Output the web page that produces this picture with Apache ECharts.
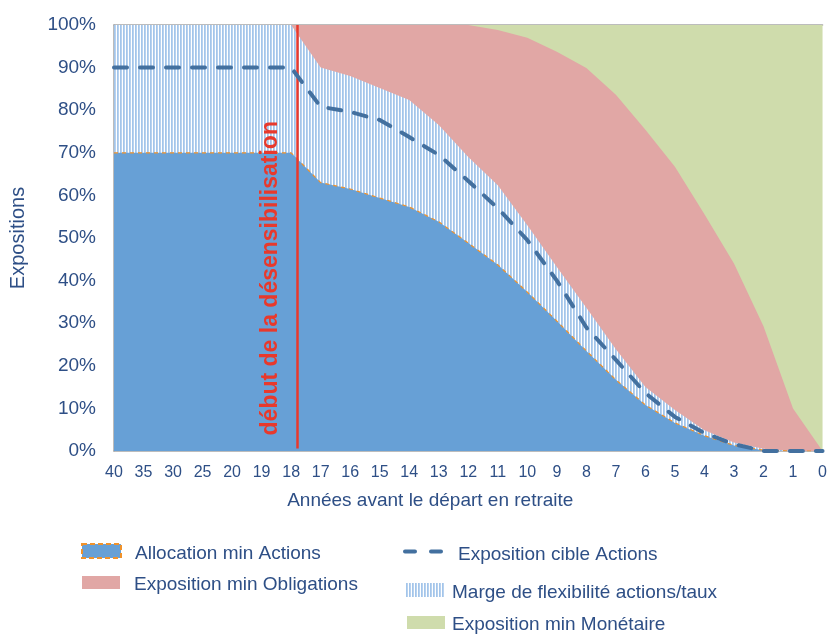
<!DOCTYPE html>
<html>
<head>
<meta charset="utf-8">
<script src="https://cdn.jsdelivr.net/npm/echarts@6/dist/echarts.min.js"></script>
<style>
  html, body { margin: 0; padding: 0; background: #ffffff; }
  #chart { width: 830px; height: 634px; }
</style>
</head>
<body>
<div id="chart"></div>
<script>
// Years before retirement (x axis ticks)
const years = ['40','35','30','25','20','19','18','17','16','15','14','13','12','11','10','9','8','7','6','5','4','3','2','1','0'];

// Minimum equity allocation (%)
const minActions = [70, 70, 70, 70, 70, 70, 70, 63, 61.5, 59.4, 57.3, 53.8, 48.8, 43.7, 37.3, 30.5, 23.5, 16.7, 10.8, 6.6, 3.6, 1.3, 0.2, 0, 0];
// Maximum equity allocation (%) – upper edge of the flexibility band
const maxActions = [100, 100, 100, 100, 100, 100, 100, 90, 88, 85.2, 82.4, 76.5, 69, 62.4, 53, 43.2, 33.6, 23.9, 15, 9.6, 4.9, 2, 0.5, 0, 0];
// Target equity exposure (%)
const cibleActions = [90, 90, 90, 90, 90, 90, 90, 80.8, 79.6, 77.7, 73.7, 69.5, 63.4, 57, 49.5, 40, 29, 21.4, 13.6, 8, 4.2, 1.6, 0, 0, 0];
// Upper edge of the minimum bond exposure (above it: minimum money-market exposure)
const obligTop = [100, 100, 100, 100, 100, 100, 100, 100, 100, 100, 100, 100, 100, 98.8, 97, 93.7, 89.9, 83.6, 75.4, 66.7, 55.6, 44, 29.3, 10, 0];
// Upper edge of the money-market exposure (total portfolio)
const totalTop = [100, 100, 100, 100, 100, 100, 100, 100, 100, 100, 100, 100, 100, 100, 100, 100, 100, 100, 100, 100, 100, 100, 100, 100, 100];

// Position (axis units) where the de-risking starts
const desensStart = 6.2;
const desensLabel = 'début de la désensibilisation';

const names = {
  alloc: 'Allocation min Actions',
  oblig: 'Exposition min Obligations',
  cible: 'Exposition cible Actions',
  marge: 'Marge de flexibilité actions/taux',
  mone: 'Exposition min Monétaire'
};

const C = {
  blue: '#67a0d6',
  orange: '#f0922b',
  pink: '#e1a7a5',
  green: '#cfdcac',
  hatch: '#a3c5ea',
  dash: '#43709f',
  red: '#e8392c',
  axis: '#a6a6a6',
  text: '#2e4f86'
};
const FONT = '"Liberation Sans", Arial, sans-serif';

// Vertical stripes pattern for the flexibility band
function stripePattern() {
  const c = document.createElement('canvas');
  c.width = 3; c.height = 4;
  const g = c.getContext('2d');
  g.fillStyle = '#ffffff'; g.fillRect(0, 0, 3, 4);
  g.fillStyle = C.hatch; g.fillRect(0, 0, 1, 4);
  g.fillStyle = '#b8d2ef'; g.fillRect(1, 0, 1, 4);
  return { image: c, repeat: 'repeat' };
}
const hatch = stripePattern();

const pairs = arr => arr.map((v, i) => [i, v]);

// Each band is drawn as an area from 0 up to its upper edge; higher bands sit underneath.
function band(name, values, fill, z, lineStyle) {
  return {
    name, type: 'line', z, data: pairs(values), symbol: 'none',
    itemStyle: { color: typeof fill === 'string' ? fill : C.hatch },
    lineStyle: lineStyle || { width: 0 },
    areaStyle: { color: fill, opacity: 1, origin: 'start' }
  };
}

// Legend label: left gap and a small downward shift of the text
function legendLabel(gap, drop) {
  return {
    formatter: name => '{t|' + name + '}',
    textStyle: {
      color: C.text, fontSize: 19, fontFamily: FONT,
      rich: { t: { color: C.text, fontSize: 19, fontFamily: FONT, padding: [drop * 2, 0, 0, gap] } }
    }
  };
}
const legendBase = { padding: 0, selectedMode: false };

const chart = echarts.init(document.getElementById('chart'), null, { renderer: 'canvas' });
chart.setOption({
  animation: false,
  backgroundColor: '#ffffff',
  grid: { left: 114, right: 3, top: 25, bottom: 183, containLabel: false },
  xAxis: [{
    type: 'value', min: 0, max: years.length - 1, interval: 1,
    name: 'Années avant le départ en retraite',
    nameLocation: 'middle', nameGap: 40,
    nameTextStyle: { color: C.text, fontSize: 19, fontFamily: FONT, padding: [0, 76, 0, 0] },
    axisLine: { show: true, lineStyle: { color: C.axis, width: 1.5 } },
    axisTick: { show: false },
    splitLine: { show: false },
    axisLabel: {
      color: C.text, fontSize: 16, fontFamily: FONT, margin: 14,
      showMinLabel: true, showMaxLabel: true,
      formatter: v => years[v] ?? ''
    }
  }, {
    type: 'value', position: 'top', min: 0, max: years.length - 1,
    axisLine: { show: true, lineStyle: { color: C.axis, width: 1.5 } },
    axisTick: { show: false }, axisLabel: { show: false }, splitLine: { show: false }
  }],
  yAxis: {
    type: 'value', min: 0, max: 100, interval: 10,
    name: 'Expositions', nameLocation: 'middle', nameGap: 86,
    nameTextStyle: { color: C.text, fontSize: 20, fontFamily: FONT },
    axisLine: { show: true, lineStyle: { color: C.axis, width: 1.5 } },
    axisTick: { show: false },
    splitLine: { show: false },
    axisLabel: { color: C.text, fontSize: 19, fontFamily: FONT, margin: 18, formatter: '{value}%' }
  },
  legend: [
    Object.assign({}, legendBase, legendLabel(9, 3), {
      left: 81, top: 543, itemWidth: 39, itemHeight: 14,
      data: [{ name: names.alloc, icon: 'rect',
        itemStyle: { color: C.blue, borderColor: C.orange, borderWidth: 2, borderType: [5, 3] } }]
    }),
    Object.assign({}, legendBase, legendLabel(9, 2), {
      left: 82, top: 575, itemWidth: 38, itemHeight: 13,
      data: [{ name: names.oblig, icon: 'rect', itemStyle: { color: C.pink, borderWidth: 0 } }]
    }),
    Object.assign({}, legendBase, legendLabel(10, 3), {
      left: 403, top: 545, itemWidth: 40, itemHeight: 4,
      data: [{ name: names.cible,
        icon: 'path://M2,0h10a2,2 0 0 1 0,4h-10a2,2 0 0 1 0,-4z M28,0h10a2,2 0 0 1 0,4h-10a2,2 0 0 1 0,-4z',
        itemStyle: { color: C.dash, borderWidth: 0 } }]
    }),
    Object.assign({}, legendBase, legendLabel(2, 3), {
      left: 406, top: 583, itemWidth: 39, itemHeight: 14,
      data: [{ name: names.marge, icon: 'rect', itemStyle: { color: hatch, borderWidth: 0 } }]
    }),
    Object.assign({}, legendBase, legendLabel(2, 2), {
      left: 407, top: 615, itemWidth: 38, itemHeight: 13,
      data: [{ name: names.mone, icon: 'rect', itemStyle: { color: C.green, borderWidth: 0 } }]
    })
  ],
  series: [
    band(names.mone, totalTop, C.green, 1),
    band(names.oblig, obligTop, C.pink, 2),
    band(names.marge, maxActions, hatch, 3),
    band(names.alloc, minActions, C.blue, 4, { color: C.orange, width: 1.2, type: [4, 4] }),
    {
      name: names.cible, type: 'line', z: 6,
      data: pairs(cibleActions), symbol: 'none',
      itemStyle: { color: C.dash },
      lineStyle: { color: C.dash, width: 4, type: [13, 13], cap: 'round' },
      markLine: {
        silent: true, symbol: ['none', 'none'], z: 5,
        lineStyle: { color: C.red, width: 2.5, type: 'solid' },
        label: {
          show: true, position: 'insideStartTop', distance: [13, 15],
          formatter: desensLabel,
          color: C.red, fontSize: 23, fontWeight: 'bold', fontFamily: FONT
        },
        data: [[{ coord: [desensStart, 0.6] }, { coord: [desensStart, 100] }]]
      }
    }
  ]
});
</script>
</body>
</html>
